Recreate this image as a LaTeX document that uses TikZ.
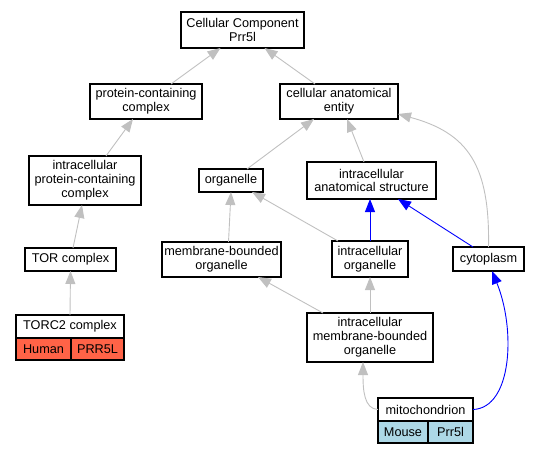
\documentclass[tikz,border=0pt]{standalone}
\usepackage{fontspec}
\setmainfont{Liberation Sans}
\usetikzlibrary{arrows.meta,positioning}
\definecolor{edgegray}{HTML}{C0C0C0}
\definecolor{human}{HTML}{FF6347}
\definecolor{mouse}{HTML}{ADD8E6}
\begin{document}
\begin{tikzpicture}[x=1pt,y=-1pt,
    term/.style={draw,line width=1.1pt,fill=white,align=center,inner sep=0pt,outer sep=0pt,
      font=\fontsize{12.7}{13.8}\selectfont},
    isa/.style={draw=edgegray,line width=.9pt,-{Triangle[length=13pt,width=10pt]}},
    partof/.style={draw=blue,line width=.9pt,-{Triangle[length=13pt,width=10pt]}}]
    \useasboundingbox (0,0) rectangle (540,453);
    % terms
    \node[term,minimum width=123,minimum height=36] (cc) at (242.5,30) {Cellular Component\\Prr5l};
    \node[term,minimum width=112,minimum height=35] (pcc) at (146,101.5) {protein-containing\\complex};
    \node[term,minimum width=118,minimum height=35] (cae) at (339,101.5) {cellular anatomical\\entity};
    \node[term,minimum width=112,minimum height=49] (ipcc) at (85,180.5) {intracellular\\protein-containing\\complex};
    \node[term,minimum width=64,minimum height=23] (org) at (231,180.5) {organelle};
    \node[term,minimum width=129,minimum height=37] (ias) at (371.5,180.5) {intracellular\\anatomical structure};
    \node[term,minimum width=91,minimum height=23] (tor) at (70.5,259.5) {TOR complex};
    \node[term,minimum width=119,minimum height=35] (mbo) at (221.5,259.5) {membrane-bounded\\organelle};
    \node[term,minimum width=76,minimum height=36] (io) at (370,259) {intracellular\\organelle};
    \node[term,minimum width=71,minimum height=24] (cyto) at (488.5,259) {cytoplasm};
    \node[term,minimum width=126,minimum height=49] (imbo) at (370,337.5) {intracellular\\membrane-bounded\\organelle};
    % annotated terms
    \node[term,minimum width=108,minimum height=23] (torc) at (70,326.5) {TORC2 complex};
    \node[term,fill=human,minimum width=55,minimum height=22,anchor=north west] (torcsp) at (torc.south west) {Human};
    \node[term,fill=human,minimum width=53,minimum height=22,anchor=north west] (torcgn) at (torcsp.north east) {PRR5L};
    \node[term,minimum width=95,minimum height=23] (mito) at (425.5,409.5) {mitochondrion};
    \node[term,fill=mouse,minimum width=50,minimum height=22,anchor=north west] (mitosp) at (mito.south west) {Mouse};
    \node[term,fill=mouse,minimum width=45,minimum height=22,anchor=north west] (mitogn) at (mitosp.north east) {Prr5l};
    % is_a
    \draw[isa] ([xshift=25pt]pcc.north) -- ([xshift=-22pt]cc.south);
    \draw[isa] ([xshift=-24pt]cae.north) -- ([xshift=22pt]cc.south);
    \draw[isa] ([xshift=21pt]ipcc.north) -- ([xshift=-13pt]pcc.south);
    \draw[isa] ([xshift=2.5pt]tor.north) -- ([xshift=-3pt]ipcc.south);
    \draw[isa] (torc.north) -- (tor.south);
    \draw[isa] ([xshift=16pt]org.north) -- ([xshift=-25pt]cae.south);
    \draw[isa] ([xshift=-7.5pt]ias.north) -- ([xshift=8pt]cae.south);
    \draw[isa] (cyto.north) .. controls (490,165) and (468,133) .. ([yshift=5pt]cae.south east);
    \draw[isa] ([xshift=7pt]mbo.north) -- (org.south);
    \draw[isa] ([xshift=-32pt]io.north) -- ([xshift=21pt]org.south);
    \draw[isa] ([xshift=-47pt]imbo.north) -- ([xshift=36.5pt]mbo.south);
    \draw[isa] (imbo.north) -- (io.south);
    \draw[isa] (mito.west) .. controls (364,409) and (363,390) .. ([xshift=-7pt]imbo.south);
    % part_of
    \draw[partof] (io.north) -- (io.north |- ias.south);
    \draw[partof] ([xshift=-15.5pt]cyto.north) -- ([xshift=26.5pt]ias.south);
    \draw[partof] (mito.east) .. controls (512,408) and (516,330) .. ([xshift=3.5pt]cyto.south);
\end{tikzpicture}
\end{document}
